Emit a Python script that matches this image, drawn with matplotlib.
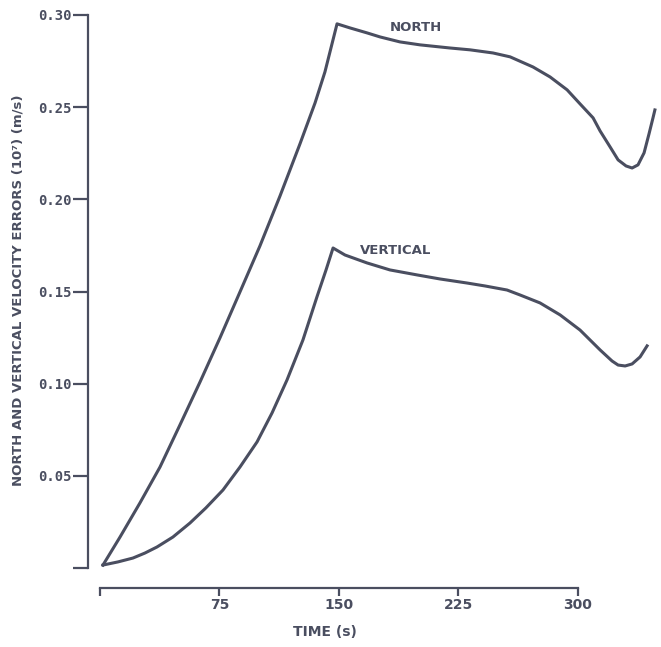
import matplotlib
matplotlib.use("Agg")
import matplotlib.pyplot as plt

# values
north_t = [1.9, 12.6, 25.1, 37.7, 50.2, 62.8, 75.3, 87.9, 100.4, 113.0, 125.5, 135.0, 141.2,
           148.8, 156.9, 167.6, 175.8, 188.3, 200.9, 219.7, 232.3, 246.7, 257.4, 271.8,
           282.5, 293.2, 301.3, 309.5, 313.9, 320.2, 325.2, 330.2, 334.0, 337.7, 341.5,
           344.6, 347.1, 348.3]
north_v = [0.0016, 0.0168, 0.0353, 0.0548, 0.0776, 0.1009, 0.1248, 0.1498, 0.1747, 0.2018,
           0.2300, 0.2523, 0.2691,
           0.2952, 0.2930, 0.2903, 0.2881, 0.2854, 0.2838, 0.2821, 0.2811, 0.2794, 0.2773,
           0.2718, 0.2664, 0.2594, 0.2518, 0.2442, 0.2371, 0.2284, 0.2214, 0.2181, 0.2170,
           0.2187, 0.2252, 0.2355, 0.2442, 0.2485]

vert_t = [1.9, 11.3, 20.7, 28.2, 35.8, 45.8, 56.5, 66.5, 77.2, 87.9, 98.6, 108.0, 117.4,
          127.4, 136.2, 141.9, 146.3, 153.8, 167.6, 182.0, 199.0, 213.4, 230.4, 241.7,
          255.5, 263.7, 276.2, 288.8, 301.3, 313.9, 321.4, 325.2, 329.6, 334.0, 339.0, 343.4]
vert_v = [0.0016, 0.0033, 0.0054, 0.0081, 0.0114, 0.0168, 0.0244, 0.0326, 0.0423, 0.0548,
          0.0684, 0.0841, 0.1020, 0.1237, 0.1471, 0.1617, 0.1736,
          0.1698, 0.1655, 0.1617, 0.1590, 0.1568, 0.1546, 0.1530, 0.1508, 0.1481, 0.1438,
          0.1373, 0.1291, 0.1183, 0.1123, 0.1101, 0.1096, 0.1107, 0.1145, 0.1205]

x_ticks = [0, 75, 150, 225, 300]
x_labels = ["", "75", "150", "225", "300"]
y_ticks = [0, 0.05, 0.10, 0.15, 0.20, 0.25, 0.30]
y_labels = ["", "0.05", "0.10", "0.15", "0.20", "0.25", "0.30"]

ink = "#4a4e60"

W, H = 661, 647
fig = plt.figure(figsize=(W / 100, H / 100), dpi=100)
ax = fig.add_axes([88 / W, (H - 568) / H, (660 - 88) / W, (568 - 15) / H])

ax.plot(north_t, north_v, color=ink, lw=2.2, solid_joinstyle="round")
ax.plot(vert_t, vert_v, color=ink, lw=2.2, solid_joinstyle="round")

ax.set_xlim(-7.5, 351.5)
ax.set_ylim(0, 0.30)

for s in ["top", "right"]:
    ax.spines[s].set_visible(False)
for s in ["left", "bottom"]:
    ax.spines[s].set_color(ink)
    ax.spines[s].set_linewidth(1.6)
ax.spines["bottom"].set_position(("outward", 14.4))
ax.spines["bottom"].set_bounds(0, 300)

ax.set_xticks(x_ticks)
ax.set_xticklabels(x_labels, fontweight="bold", fontsize=10, color=ink)
ax.set_yticks(y_ticks)
ax.set_yticklabels(y_labels, family="DejaVu Sans Mono", fontweight="bold", fontsize=10, color=ink)
ax.tick_params(axis="y", direction="out", length=11, width=1.6, color=ink, pad=1)
ax.tick_params(axis="x", direction="out", length=6, width=1.6, color=ink, pad=1)

ax.set_xlabel("TIME (s)", fontweight="bold", fontsize=10, color=ink)
ax.xaxis.set_label_coords((325 - 88) / 572, -(625 - 568) / 553, transform=ax.transAxes)
fig.text(18 / W, 1 - 290 / H, "NORTH AND VERTICAL VELOCITY ERRORS (10\u2077) (m/s)",
         rotation=90, ha="center", va="center", fontweight="bold",
         fontsize=9.5, color=ink)

ax.text(182, 0.293, "NORTH", fontweight="bold", fontsize=9.5, color=ink, va="center")
ax.text(163, 0.172, "VERTICAL", fontweight="bold", fontsize=9.5, color=ink, va="center")

fig.savefig("out.png", dpi=100, facecolor="white")
